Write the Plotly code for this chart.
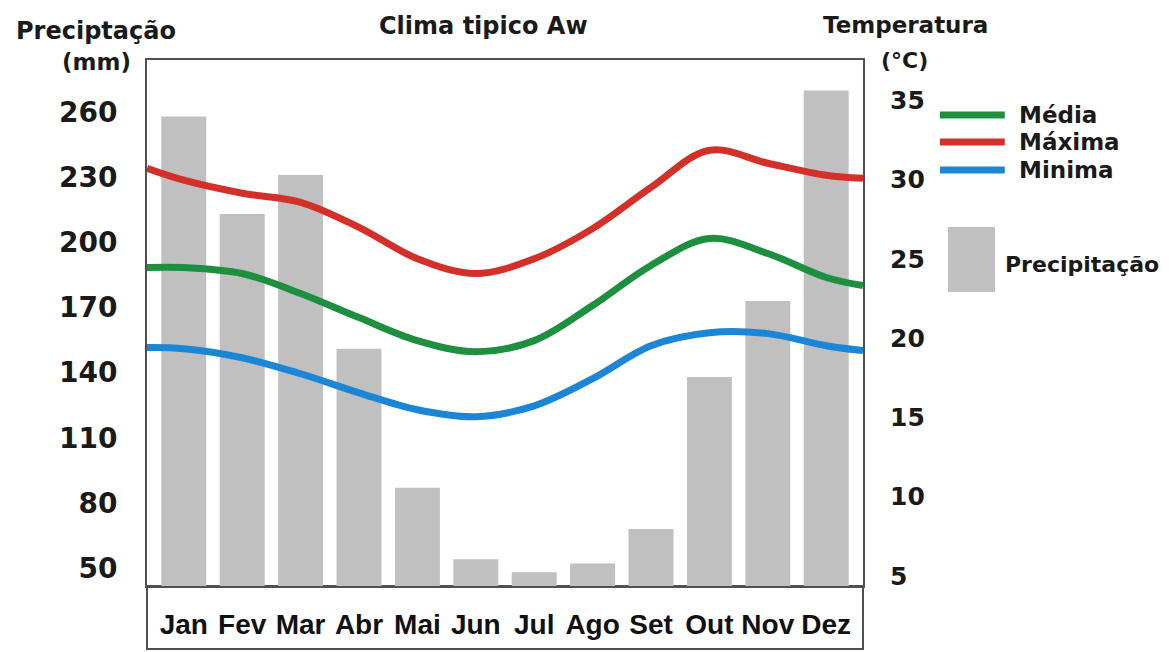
import plotly.graph_objects as go

meses = ["Jan", "Fev", "Mar", "Abr", "Mai", "Jun", "Jul", "Ago", "Set", "Out", "Nov", "Dez"]
precipitacao = [258, 213, 231, 151, 87, 54, 48, 52, 68, 138, 173, 270]

media = [24.45, 24.07, 22.81, 21.29, 19.84, 19.14, 19.84, 22.05, 24.58, 26.28, 25.33, 23.82]
maxima = [29.95, 29.13, 28.56, 26.98, 25.0, 24.07, 25.0, 26.9, 29.5, 31.84, 31.02, 30.26]
minima = [19.33, 18.76, 17.75, 16.55, 15.48, 15.04, 15.73, 17.44, 19.52, 20.34, 20.28, 19.52]

# valores das curvas nas bordas do grafico (esquerda, direita)
media_bordas = [24.45, 23.31]
maxima_bordas = [30.70, 30.07]
minima_bordas = [19.40, 19.21]

ticks_mm = [50, 80, 110, 140, 170, 200, 230, 260]
ticks_c = [5, 10, 15, 20, 25, 30, 35]

X_MIN, X_MAX = -0.63, 11.63
idx = list(range(len(meses)))
x_linhas = [X_MIN] + idx + [X_MAX]

VERDE = "#1e8f3e"
VERMELHO = "#d3302a"
AZUL = "#1c86d6"
CINZA = "#c0c0c0"
BORDA = "#505050"
FONTE = "DejaVu Sans"

fig = go.Figure()

fig.add_trace(go.Bar(x=idx, y=precipitacao, name="Precipitação",
                     marker=dict(color=CINZA, line=dict(width=0)), yaxis="y"))

for nome, valores, bordas, cor in [("Média", media, media_bordas, VERDE),
                                   ("Máxima", maxima, maxima_bordas, VERMELHO),
                                   ("Minima", minima, minima_bordas, AZUL)]:
    fig.add_trace(go.Scatter(x=x_linhas, y=[bordas[0]] + valores + [bordas[1]],
                             name=nome, mode="lines", yaxis="y2",
                             line=dict(color=cor, width=7, shape="spline", smoothing=1)))

# a pagina html tem 8px de margem no body, por isso l/t menores
fig.update_layout(
    width=1169, height=652,
    margin=dict(l=139, r=314, t=52, b=74),
    paper_bgcolor="white", plot_bgcolor="white",
    showlegend=False, bargap=0.23,
    xaxis=dict(range=[X_MIN, X_MAX], tickvals=idx, ticktext=meses,
               showline=True, mirror=True, linecolor=BORDA, linewidth=2,
               showgrid=False, zeroline=False, ticks="", ticklabelstandoff=12,
               tickfont=dict(family="Liberation Sans Narrow, Liberation Sans, Arial",
                             size=28, color="#111", weight="bold")),
    yaxis=dict(range=[41.69, 284.0], tickvals=ticks_mm, showline=True,
               linecolor=BORDA, linewidth=2, showgrid=False, zeroline=False,
               ticks="", ticklabelstandoff=22,
               tickfont=dict(family=FONTE, size=28, color="#1a1a1a", weight="bold")),
    yaxis2=dict(range=[4.37, 37.53], tickvals=ticks_c, overlaying="y", side="right",
                showline=True, linecolor=BORDA, linewidth=2, showgrid=False,
                zeroline=False, ticks="", ticklabelstandoff=20,
                tickfont=dict(family=FONTE, size=25, color="#1a1a1a", weight="bold")),
)

# caixa dos meses abaixo do grafico
fig.add_shape(type="rect", xref="paper", yref="paper", x0=0, x1=1, y0=-0.12, y1=0,
              line=dict(color=BORDA, width=2), layer="below")

def texto(t, x, y, size, xanchor="center"):
    fig.add_annotation(text=t, x=x, y=y, xref="paper", yref="paper", showarrow=False,
                       xanchor=xanchor, yanchor="middle",
                       font=dict(family=FONTE, size=size, color="#1a1a1a", weight="bold"))

texto("Preciptação", -0.0712, 1.055, 24)
texto("(mm)", -0.0712, 0.9962, 23)
texto("Clima tipico Aw", 0.4693, 1.064, 24)
texto("Temperatura", 1.060, 1.066, 23)
texto("(°C)", 1.0573, 1.0, 22)

# legenda desenhada a mao
for nome, cor, yl in [("Média", VERDE, 0.8954), ("Máxima", VERMELHO, 0.8441), ("Minima", AZUL, 0.7909)]:
    fig.add_shape(type="line", xref="paper", yref="paper", x0=1.1075, x1=1.198, y0=yl, y1=yl,
                  line=dict(color=cor, width=7))
    texto(nome, 1.2151, yl, 23, xanchor="left")

fig.add_shape(type="rect", xref="paper", yref="paper", x0=1.1187, x1=1.1844, y0=0.5589, y1=0.6825,
              fillcolor=CINZA, line=dict(width=0))
texto("Precipitação", 1.1955, 0.6103, 22, xanchor="left")

fig.write_html("out.html")
